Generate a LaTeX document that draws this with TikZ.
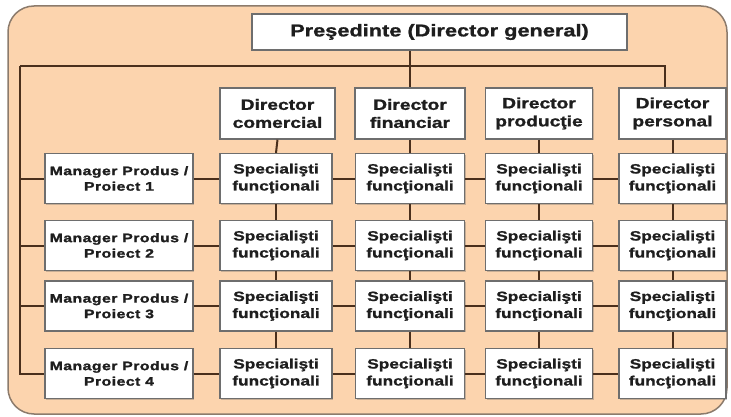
\documentclass[tikz,border=0pt]{standalone}
\usepackage{fontspec}
\setmainfont{Liberation Sans}[FakeStretch=1.28, BoldFeatures={FakeBold=1.2}]
\newfontfamily\managerfont{Liberation Sans}[FakeStretch=1.28, LetterSpace=4, BoldFeatures={FakeBold=1.6}]
\usetikzlibrary{shadows}
\definecolor{panel}{HTML}{FCD4AE}
\definecolor{panelrim}{HTML}{8C7B6C}
\definecolor{wire}{HTML}{4A2F1C}
\definecolor{boxrim}{HTML}{6E6E6E}
\definecolor{ink}{HTML}{1E1E1E}
\tikzset{
  unit/.style={draw=boxrim, line width=1.2pt, fill=white, text=ink,
    font=\bfseries, align=center, inner sep=0pt,
    drop shadow={shadow xshift=1.2pt, shadow yshift=-1.2pt, opacity=.35, fill=black!60}},
  boss/.style={unit, minimum width=375pt, minimum height=36pt, font=\bfseries\fontsize{17}{20}\selectfont},
  director/.style={unit, minimum height=51pt, font=\bfseries\fontsize{15}{18}\selectfont},
  manager/.style={unit, minimum width=148pt, minimum height=50pt, font=\managerfont\bfseries\fontsize{12.3}{15.5}\selectfont},
  specialist/.style={unit, minimum height=50pt, font=\bfseries\fontsize{13.5}{17}\selectfont},
  wireline/.style={draw=wire, line width=2pt}
}
\begin{document}
\begin{tikzpicture}[x=1pt, y=-1pt]
  \useasboundingbox (0,0) rectangle (731,417);
  % background panel
  \draw[fill=panel, draw=panelrim, line width=1.5pt, rounded corners=26pt] (8,6) rectangle (727,414);

  % top management
  \node[boss] (pres) at (439.5,32) {Preşedinte (Director general)};
  \node[director, minimum width=115pt] (d1) at (277.5,113.5) {Director\\comercial};
  \node[director, minimum width=110pt] (d2) at (410,113.5) {Director\\financiar};
  \node[director, minimum width=107pt] (d3) at (539,113.5) {Director\\producţie};
  \node[director, minimum width=107pt] (d4) at (672.5,113.5) {Director\\personal};

  % project managers and functional specialists
  \foreach \r/\y in {1/178.5, 2/245.5, 3/306, 4/373.5}{
    \node[manager] (m\r) at (119,\y) {Manager Produs /\\Proiect \r};
    \node[specialist, minimum width=112pt] (s\r1) at (276,\y) {Specialişti\\funcţionali};
    \node[specialist, minimum width=109pt] (s\r2) at (410,\y) {Specialişti\\funcţionali};
    \node[specialist, minimum width=107pt] (s\r3) at (539,\y) {Specialişti\\funcţionali};
    \node[specialist, minimum width=107pt] (s\r4) at (672.5,\y) {Specialişti\\funcţionali};
  }

  % connectors
  \coordinate (tl) at (20,66);
  \coordinate (tr) at (665,66);
  \draw[wireline] (d2.north |- pres.south) -- (d2.north);
  \draw[wireline] (tl) -- (tr) -- ([xshift=-7.5pt]d4.north);
  \draw[wireline] (tl) |- (m4.west);
  \foreach \r in {1,2,3}{
    \draw[wireline] (tl |- m\r.west) -- (m\r.west);
  }
  \foreach \r in {1,2,3,4}{
    \draw[wireline] (m\r.east) -- (s\r1.west);
    \draw[wireline] (s\r1.east) -- (s\r2.west);
    \draw[wireline] (s\r2.east) -- (s\r3.west);
    \draw[wireline] (s\r3.east) -- (s\r4.west);
  }
  \foreach \c in {1,2,3,4}{
    \draw[wireline] (d\c.south) -- (s1\c.north);
    \draw[wireline] (s1\c.south) -- (s2\c.north);
    \draw[wireline] (s2\c.south) -- (s3\c.north);
    \draw[wireline] (s3\c.south) -- (s4\c.north);
  }
\end{tikzpicture}
\end{document}
